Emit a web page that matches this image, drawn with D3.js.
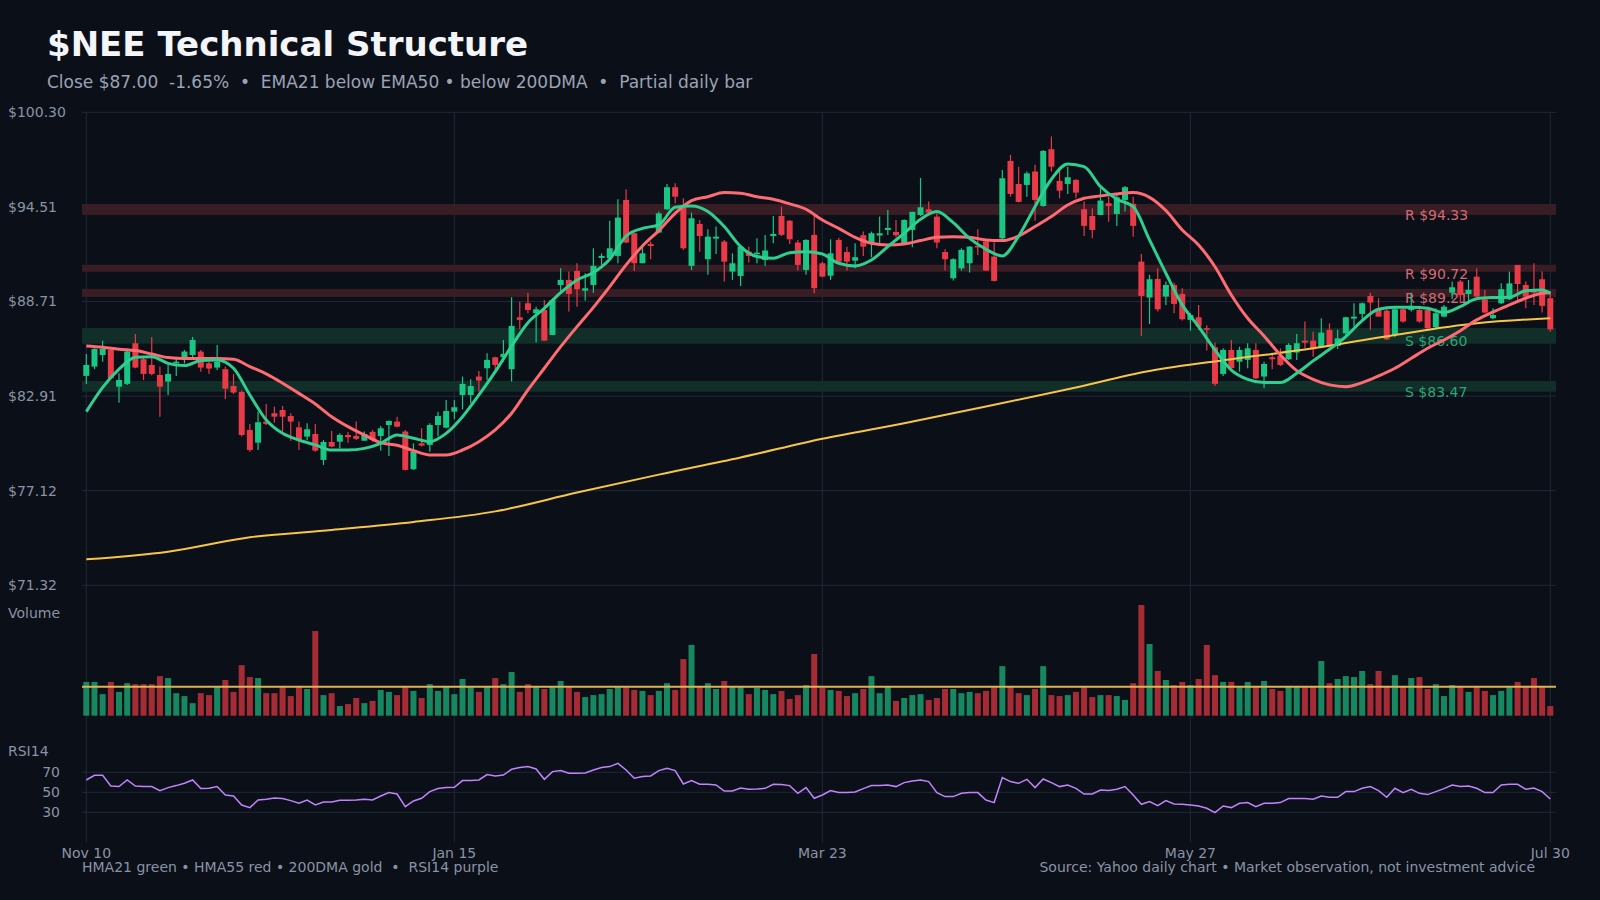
<!DOCTYPE html>
<html><head><meta charset="utf-8">
<script src="https://cdn.jsdelivr.net/npm/d3@7"></script>
<style>html,body{margin:0;padding:0;background:#0b0f18;}svg{display:block;font-family:"DejaVu Sans",sans-serif;}</style>
</head><body>
<svg id="chart" width="1600" height="900"></svg>
<script>
// ---------------- DATA ----------------
const tickIdx = [0, 45, 90, 135, 179];
const tickLabels = ["Nov 10", "Jan 15", "Mar 23", "May 27", "Jul 30"];
const priceTicks = [100.30, 94.51, 88.71, 82.91, 77.12, 71.32];
const rsiTicks = [70, 50, 30];

const resLevels = [94.33, 90.72, 89.21];
const resLow = [94.01, 90.53, 88.99];
const resHigh = [94.68, 90.96, 89.48];
const supLevels = [86.60, 83.47];
const supLow = [86.12, 83.18];
const supHigh = [87.09, 83.84];

const open = [84.15,84.72,85.43,85.74,83.49,83.66,86.15,85.17,84.82,84.21,
83.80,84.92,85.23,85.43,85.64,84.92,84.66,84.56,83.53,83.17,
80.84,80.06,81.35,81.86,82.06,81.69,81.00,80.43,80.59,79.00,
80.10,80.12,80.53,80.47,80.18,80.72,80.47,81.14,81.35,80.74,
78.43,80.02,79.92,81.14,80.98,81.96,82.98,82.98,84.11,84.62,
85.29,85.29,84.56,87.74,88.60,87.99,88.19,86.66,89.72,90.03,
90.58,89.37,89.72,91.38,91.36,91.50,94.93,92.89,91.05,92.23,
92.93,94.36,95.71,94.48,90.89,93.46,91.30,92.56,92.38,90.54,
90.27,91.76,91.62,91.25,92.72,93.95,93.66,92.32,90.64,92.79,
91.05,90.29,92.48,91.74,91.21,92.77,92.32,92.75,93.09,92.97,
92.28,93.09,94.01,94.36,93.91,91.74,90.13,90.74,91.05,92.11,
92.38,91.46,92.58,97.32,95.91,95.85,96.67,94.56,98.04,96.10,
95.91,96.16,94.36,93.95,94.01,94.73,94.07,94.93,94.69,91.15,
88.95,90.09,89.01,89.72,89.17,87.58,87.74,87.07,85.90,84.27,
85.74,85.02,85.13,85.74,84.11,85.29,85.37,85.17,85.58,86.31,
86.31,85.90,86.97,85.98,86.76,87.66,87.95,89.05,88.29,88.15,
86.66,88.23,88.19,88.19,88.19,87.13,87.78,89.25,89.93,89.17,
90.23,88.84,87.68,88.60,88.84,90.95,89.72,89.37,90.07,88.91];
const high = [85.49,85.84,86.31,85.94,84.31,85.84,86.72,85.33,86.54,84.72,
84.82,85.33,85.74,86.54,85.74,85.02,86.05,84.72,84.27,83.25,
81.21,81.96,82.43,82.27,82.31,81.86,81.35,81.25,81.21,80.22,
80.78,80.63,80.72,81.35,80.74,80.84,81.08,81.41,81.65,80.84,
80.02,80.94,81.25,81.96,82.68,82.68,84.11,83.94,84.45,85.54,
85.33,86.35,88.97,88.70,89.25,88.39,88.80,88.91,90.74,90.54,
91.05,90.44,91.97,91.66,93.66,94.97,95.58,92.93,92.23,92.38,
94.22,95.91,95.95,95.03,94.15,93.70,93.13,93.30,92.48,91.66,
92.17,92.07,92.58,92.79,93.95,94.52,93.70,92.48,92.52,93.95,
91.15,92.52,92.62,92.07,92.28,92.99,92.99,93.91,94.32,93.70,
93.75,94.20,96.28,94.83,94.11,91.91,91.36,91.97,92.11,93.13,
92.48,92.32,96.77,97.69,96.97,96.67,97.08,97.99,98.81,96.87,
96.97,96.20,94.83,94.42,95.65,95.13,95.34,95.79,95.13,91.62,
90.34,90.74,89.93,89.87,89.52,87.99,88.50,87.25,86.19,85.84,
86.35,85.94,86.15,86.15,85.02,85.49,85.84,86.15,86.72,87.48,
86.86,87.68,87.37,86.97,87.78,88.60,88.64,89.25,88.91,88.29,
88.39,88.39,89.25,88.44,88.29,88.29,88.50,89.93,90.03,90.03,
90.74,89.42,88.29,89.82,90.54,90.95,89.93,91.05,90.54,89.32];
const low = [83.66,84.56,85.02,83.94,82.51,83.59,84.62,83.90,84.19,81.65,
82.98,84.15,84.92,85.29,84.41,84.27,84.51,82.74,83.04,80.43,
79.51,79.61,81.14,81.29,80.74,80.18,79.61,80.22,79.51,78.69,
79.78,79.71,80.06,80.22,80.18,80.12,79.57,79.24,81.00,78.35,
78.39,79.82,79.51,80.43,80.94,81.49,82.10,82.47,83.19,83.90,
84.51,85.02,83.80,87.01,87.99,86.19,86.31,86.66,89.17,88.09,
88.39,88.76,89.25,90.95,91.30,91.05,92.28,90.58,91.05,91.30,
92.89,94.32,94.73,91.87,90.64,91.76,90.34,91.62,89.93,90.03,
89.66,91.09,91.05,90.89,92.28,92.72,92.23,90.60,90.34,89.21,
90.19,90.03,91.05,90.60,90.74,91.50,91.42,92.28,92.79,92.64,
92.23,92.03,93.95,94.07,91.97,90.60,89.99,90.60,90.48,91.56,
90.60,89.93,92.52,95.13,94.77,95.13,93.66,94.52,96.67,95.03,
95.30,95.03,92.72,92.58,94.01,93.60,93.34,94.22,92.68,86.60,
87.33,88.09,88.50,87.99,87.54,86.92,86.97,85.70,83.53,84.15,
84.56,84.41,84.62,83.94,83.39,84.56,84.76,85.13,85.13,85.84,
85.33,85.84,85.94,85.80,86.66,87.17,87.58,86.97,87.78,86.35,
86.52,87.41,88.09,87.41,86.97,87.07,87.74,88.84,88.60,88.56,
88.97,87.99,87.62,88.56,88.80,88.80,88.29,88.50,88.03,86.86];
const close = [84.82,85.80,85.80,84.00,83.90,85.64,84.66,84.27,84.27,83.49,
84.27,85.02,85.64,86.35,84.66,84.60,85.02,83.37,83.13,80.53,
79.61,81.31,81.21,81.65,81.65,81.35,80.27,80.88,79.57,80.10,
79.82,80.53,80.39,80.29,80.59,80.22,80.94,81.39,81.04,78.39,
79.51,79.88,81.14,81.69,82.00,82.23,83.66,83.53,83.86,85.13,
84.82,85.49,87.21,87.58,88.19,88.23,86.31,88.80,90.03,89.17,
89.46,89.52,90.89,91.50,91.97,93.85,92.32,91.05,91.66,92.11,
94.11,95.71,95.13,91.97,93.81,92.72,92.68,92.68,91.15,91.05,
92.07,91.50,91.70,91.83,92.85,92.79,92.52,90.95,92.48,89.52,
90.23,91.66,91.15,91.15,91.42,92.07,92.89,92.89,93.22,92.77,
93.70,94.20,94.48,94.15,92.32,91.30,91.30,91.87,92.07,92.03,
90.60,89.97,96.26,95.30,94.81,96.56,94.93,97.93,96.97,95.50,
96.32,95.38,93.34,93.09,94.89,94.56,95.09,95.71,93.34,89.05,
90.07,88.23,89.72,88.56,87.62,87.88,87.17,86.97,83.66,85.74,
84.62,85.74,85.84,84.00,84.88,85.17,84.82,86.05,86.15,86.19,
85.78,86.80,85.98,86.45,87.74,87.78,88.60,88.64,87.78,86.39,
88.23,87.48,88.44,87.48,87.07,87.99,88.39,89.58,89.11,89.42,
89.01,88.03,87.88,89.46,89.82,89.78,89.01,89.25,88.44,87.00];

const volume = [10.5,10.5,6.7,10.5,7.4,10.1,9.8,9.8,9.8,12.3,
11.7,7.0,6.1,3.9,7.0,6.4,8.9,11.1,7.4,15.7,
12.0,11.7,7.0,7.0,8.9,6.1,8.9,8.3,26.3,6.4,
7.0,3.0,3.6,5.5,3.9,4.6,8.0,7.4,6.4,8.9,
7.7,5.5,9.8,7.7,8.9,6.7,11.4,8.9,7.4,8.9,
11.7,9.8,13.6,7.4,9.8,8.9,8.3,8.9,10.8,8.9,
7.4,5.8,6.4,6.7,8.3,8.9,8.9,8.0,7.7,6.4,
7.7,10.1,8.0,17.6,22.0,8.9,10.1,8.3,10.8,8.9,
8.9,6.7,8.6,8.0,6.7,7.7,5.2,6.4,9.5,19.2,
8.7,8.0,7.7,6.1,7.0,8.3,12.3,7.0,8.9,4.6,
5.5,6.4,6.7,4.9,5.5,8.3,8.3,7.0,7.4,7.0,
7.7,8.9,15.4,8.9,7.0,6.4,8.3,15.4,6.4,6.1,
6.4,7.4,8.9,5.8,6.4,6.4,6.1,4.9,10.1,34.4,
22.3,13.9,11.1,9.5,10.5,9.5,11.4,22.0,12.6,10.5,
10.5,8.9,10.5,8.9,10.8,8.3,7.7,8.9,8.9,8.9,
8.9,17.0,10.1,11.4,12.3,12.0,13.9,9.8,13.9,8.9,
12.6,8.9,11.7,12.0,8.3,9.8,6.1,9.5,8.9,7.4,
8.9,7.7,6.4,7.7,8.9,10.5,8.9,11.7,8.9,3.0];
const volumeAvg = 9.0;

const rsi14 = [62.3,67.0,67.0,56.3,55.7,62.3,56.3,55.7,55.7,51.7,
54.7,56.7,59.0,62.3,53.7,54.0,55.7,47.3,46.3,37.3,
34.7,42.3,43.0,44.3,43.7,41.7,39.0,42.3,37.3,40.3,
40.3,42.0,42.0,42.3,43.0,42.3,46.3,49.7,48.3,35.7,
41.3,44.0,50.7,53.7,54.7,55.0,61.7,61.7,62.3,67.7,
66.3,67.3,73.0,74.7,75.7,73.3,63.0,70.7,71.7,69.0,
69.0,69.3,72.3,74.7,75.7,79.0,72.3,64.0,65.7,66.3,
71.7,74.0,71.7,58.3,61.7,58.0,58.0,57.3,51.3,51.3,
54.3,53.0,53.3,54.0,58.0,57.7,56.7,49.0,54.7,44.0,
47.3,51.7,49.7,49.7,50.3,53.7,56.7,56.7,57.3,55.7,
59.7,61.3,62.3,60.7,49.7,45.7,45.7,49.0,49.7,49.7,
42.3,39.7,64.7,60.7,59.0,63.0,54.7,63.3,59.7,55.7,
57.3,54.0,48.3,48.3,52.3,51.7,53.0,55.7,47.3,38.0,
40.7,36.7,41.7,38.3,38.0,37.3,36.3,34.0,29.7,36.3,
34.7,39.0,39.7,35.7,39.0,39.0,39.7,43.7,43.7,43.7,
43.0,46.3,45.0,45.0,50.7,50.7,54.0,55.7,51.7,45.0,
54.0,49.7,53.0,49.0,47.7,50.7,53.7,57.3,55.7,56.3,
54.0,49.7,49.7,57.3,58.0,58.0,53.0,54.3,50.7,43.3];

// moving averages sampled at these bar indices
const hmaIdx = [0,2,4,6,8,10,12,14,16,18,20,22,24,26,28,30,32,34,36,38,40,42,44,46,48,50,52,54,56,58,
60,62,64,66,68,70,72,74,76,78,80,82,84,86,88,90,92,94,96,98,100,102,104,106,108,110,112,114,116,118,
120,122,124,126,128,130,132,134,136,138,140,142,144,146,148,150,152,154,156,158,160,162,164,166,168,170,172,174,176,178,179];
const hma21 = [81.96,83.45,84.56,85.29,85.33,84.92,84.78,85.09,85.13,84.62,82.98,81.45,80.63,80.22,79.92,79.61,79.61,79.71,80.02,80.53,
80.33,80.12,80.63,81.65,82.98,84.41,85.98,87.41,88.29,89.25,90.03,90.48,91.30,92.72,93.19,93.40,94.48,94.56,94.22,93.30,
92.07,91.46,91.36,91.70,91.76,91.62,91.05,90.89,91.25,92.07,92.89,93.75,94.22,93.54,92.58,91.91,91.50,92.72,94.52,96.20,
97.14,96.97,95.75,94.97,94.52,92.48,90.44,88.50,87.17,85.74,84.51,83.94,83.74,83.74,84.31,85.07,85.78,86.56,87.54,88.23,
88.35,88.35,88.29,88.03,88.39,88.88,88.95,88.97,89.37,89.42,89.21];
const hma55 = [85.98,85.90,85.78,85.70,85.49,85.27,85.21,85.21,85.21,85.17,84.72,84.27,83.70,83.08,82.43,81.65,81.04,80.53,80.06,79.90,
79.57,79.31,79.31,79.61,80.12,80.84,81.86,83.29,84.62,85.94,87.17,88.35,89.62,90.95,92.11,93.05,94.11,94.89,95.13,95.38,
95.34,95.13,94.97,94.69,94.36,93.70,93.19,92.64,92.28,92.17,92.23,92.44,92.64,92.68,92.64,92.48,92.44,92.72,93.30,93.91,
94.62,95.03,95.18,95.30,95.38,95.09,94.28,93.09,92.17,90.84,89.11,87.68,86.60,85.43,84.47,83.94,83.60,83.49,83.74,84.15,
84.62,85.23,85.84,86.35,86.92,87.58,88.07,88.50,88.91,89.21,89.25];
const dmaIdx = [0,10,20,30,40,50,60,70,80,90,100,110,120,130,140,150,160,170,179];
const dma200 = [72.91,73.38,74.26,74.71,75.20,75.85,77.00,78.10,79.15,80.30,81.25,82.27,83.33,84.45,85.17,85.84,86.66,87.37,87.68];

// ---------------- CHART ----------------
const svg = d3.select("#chart");
const L = 82, R = 1556;
const C = {bg:"#0b0f18", grid:"#212838", text:"#8a93a5", up:"#19c684", down:"#e83a47",
  vUp:"#16875f", vDown:"#a52c35", g:"#2ecf8f", r:"#ff6b72", gold:"#f7c548", purple:"#c084fc",
  resBand:"#391d24", supBand:"#112e29", resText:"#d36a73", supText:"#2aa777"};
const FS = 14;

svg.append("rect").attr("width",1600).attr("height",900).attr("fill",C.bg);

const x = d3.scaleLinear().domain([0,179]).range([86.3,1550.3]);
const y = d3.scaleLinear().domain([71.32,100.30]).range([585.3,112.3]);
const yv = d3.scaleLinear().domain([0,d3.max(volume)]).range([715.7,605]);
const yr = d3.scaleLinear().domain([0,100]).range([842.3,742.3]);

// title
svg.append("text").attr("x",47).attr("y",56).attr("fill","#f3f5f8")
  .attr("font-size",34).attr("font-weight","bold").text("$NEE Technical Structure");
svg.append("text").attr("x",47).attr("y",88).attr("fill","#9ba3b4")
  .attr("font-size",17).style("white-space","pre")
  .text("Close $87.00  -1.65%  \u2022  EMA21 below EMA50 \u2022 below 200DMA  \u2022  Partial daily bar");

// grid
const grid = svg.append("g").attr("stroke",C.grid).attr("stroke-width",1);
grid.selectAll(".hp").data(priceTicks).join("line")
  .attr("x1",L).attr("x2",R).attr("y1",d=>y(d)).attr("y2",d=>y(d));
grid.selectAll(".vx").data(tickIdx).join("line")
  .attr("x1",d=>x(d)).attr("x2",d=>x(d)).attr("y1",y(100.30)).attr("y2",yr(0));
grid.selectAll(".hr").data(rsiTicks).join("line")
  .attr("x1",L).attr("x2",R).attr("y1",d=>yr(d)).attr("y2",d=>yr(d));

// price labels
svg.append("g").selectAll("text").data(priceTicks).join("text")
  .attr("x",8).attr("y",d=>y(d)).attr("dy","0.35em").attr("fill",C.text).attr("font-size",FS)
  .text(d=>"$"+d.toFixed(2));

// bands
const res = resLevels.map((v,i)=>({v,lo:resLow[i],hi:resHigh[i]}));
const sup = supLevels.map((v,i)=>({v,lo:supLow[i],hi:supHigh[i]}));
svg.append("g").selectAll("rect").data(res).join("rect")
  .attr("x",L).attr("width",R-L).attr("y",d=>y(d.hi)).attr("height",d=>y(d.lo)-y(d.hi)).attr("fill",C.resBand);
svg.append("g").selectAll("rect").data(sup).join("rect")
  .attr("x",L).attr("width",R-L).attr("y",d=>y(d.hi)).attr("height",d=>y(d.lo)-y(d.hi)).attr("fill",C.supBand);
svg.append("g").selectAll("text").data(res).join("text")
  .attr("x",1405).attr("y",d=>y(d.v)+10).attr("fill",C.resText).attr("font-size",FS)
  .text(d=>"R $"+d.v.toFixed(2));
svg.append("g").selectAll("text").data(sup).join("text")
  .attr("x",1405).attr("y",d=>y(d.v)+10).attr("fill",C.supText).attr("font-size",FS)
  .text(d=>"S $"+d.v.toFixed(2));

// candles
const bars = d3.range(close.length).map(i=>({i,o:open[i],h:high[i],l:low[i],c:close[i],v:volume[i]}));
const cg = svg.append("g");
cg.selectAll("line").data(bars).join("line")
  .attr("x1",d=>x(d.i)).attr("x2",d=>x(d.i)).attr("y1",d=>y(d.h)).attr("y2",d=>y(d.l))
  .attr("stroke",d=>d.c>=d.o?C.up:C.down).attr("stroke-width",1.2);
cg.selectAll("rect").data(bars).join("rect")
  .attr("x",d=>x(d.i)-3).attr("width",6)
  .attr("y",d=>y(Math.max(d.o,d.c)))
  .attr("height",d=>Math.max(1.5,Math.abs(y(d.o)-y(d.c))))
  .attr("fill",d=>d.c>=d.o?C.up:C.down);

// moving averages
const mkLine = d3.line().x(d=>x(d[0])).y(d=>y(d[1])).curve(d3.curveMonotoneX);
svg.append("path").datum(dmaIdx.map((k,j)=>[k,dma200[j]])).attr("d",mkLine)
  .attr("fill","none").attr("stroke",C.gold).attr("stroke-width",2);
svg.append("path").datum(hmaIdx.map((k,j)=>[k,hma55[j]])).attr("d",mkLine)
  .attr("fill","none").attr("stroke",C.r).attr("stroke-width",3);
svg.append("path").datum(hmaIdx.map((k,j)=>[k,hma21[j]])).attr("d",mkLine)
  .attr("fill","none").attr("stroke",C.g).attr("stroke-width",3);

// volume
svg.append("text").attr("x",8).attr("y",613).attr("dy","0.35em").attr("fill",C.text).attr("font-size",FS).text("Volume");
svg.append("g").selectAll("rect").data(bars).join("rect")
  .attr("x",d=>x(d.i)-3).attr("width",6).attr("y",d=>yv(d.v)).attr("height",d=>yv(0)-yv(d.v))
  .attr("fill",d=>d.c>=d.o?C.vUp:C.vDown);
svg.append("line").attr("x1",L).attr("x2",R).attr("y1",yv(volumeAvg)).attr("y2",yv(volumeAvg))
  .attr("stroke","#ddb253").attr("stroke-width",2);

// RSI
svg.append("text").attr("x",8).attr("y",751).attr("dy","0.35em").attr("fill",C.text).attr("font-size",FS).text("RSI14");
svg.append("g").selectAll("text").data(rsiTicks).join("text")
  .attr("x",60).attr("y",d=>yr(d)).attr("dy","0.35em").attr("text-anchor","end").attr("fill",C.text).attr("font-size",FS)
  .text(d=>d);
svg.append("path").datum(rsi14.map((v,i)=>[i,v]))
  .attr("d",d3.line().x(d=>x(d[0])).y(d=>yr(d[1])))
  .attr("fill","none").attr("stroke",C.purple).attr("stroke-width",1.5);

// x labels
svg.append("g").selectAll("text").data(tickIdx).join("text")
  .attr("x",d=>x(d)).attr("y",853).attr("dy","0.35em").attr("text-anchor","middle")
  .attr("fill",C.text).attr("font-size",FS).text((d,i)=>tickLabels[i]);

// footer
svg.append("text").attr("x",82).attr("y",867).attr("dy","0.35em").attr("fill",C.text).attr("font-size",FS)
  .style("white-space","pre").text("HMA21 green \u2022 HMA55 red \u2022 200DMA gold  \u2022  RSI14 purple");
svg.append("text").attr("x",1535).attr("y",867).attr("dy","0.35em").attr("text-anchor","end").attr("fill",C.text).attr("font-size",FS)
  .text("Source: Yahoo daily chart \u2022 Market observation, not investment advice");
</script>
</body></html>
